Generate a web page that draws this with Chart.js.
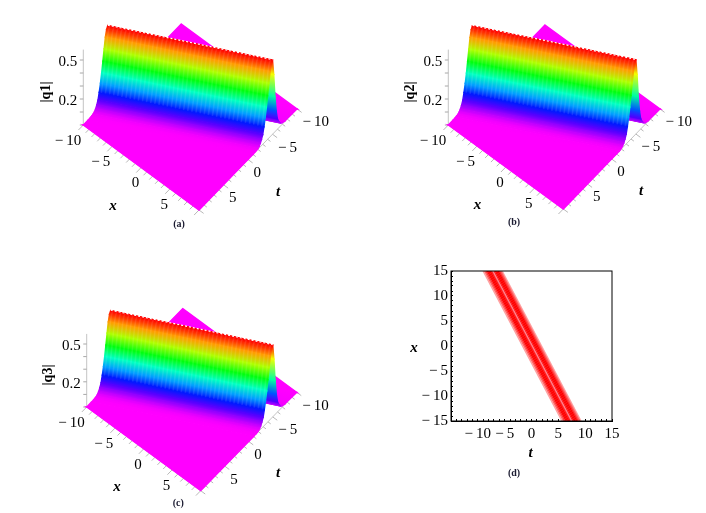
<!DOCTYPE html>
<html>
<head>
<meta charset="utf-8">
<script src="https://cdn.jsdelivr.net/npm/chart.js@4/dist/chart.umd.min.js"></script>
<style>
  html, body { margin: 0; padding: 0; background: #fff; }
  body { width: 706px; height: 513px; position: relative; overflow: hidden; }
  canvas { position: absolute; filter: blur(0.35px); }
</style>
</head>
<body>
<canvas id="panelA" width="353" height="257" style="left:0;top:0"></canvas>
<canvas id="panelB" width="353" height="257" style="left:353px;top:0"></canvas>
<canvas id="panelC" width="353" height="256" style="left:0;top:257px"></canvas>
<canvas id="panelD" width="353" height="256" style="left:353px;top:257px"></canvas>
<script>
// distance from the ridge, measured along t, and the height read at each distance
const ridgeOffsets = [-5, -2.5, -2, -1.75, -1.5, -1.25, -1, -0.75, -0.5, -0.25, 0, 0.25, 0.5, 0.75, 1, 1.25, 1.5, 1.75, 2, 2.25, 2.5, 2.75, 3, 3.25, 3.5, 4, 5];
const q1Heights = [0, 0.004, 0.01, 0.02, 0.03, 0.05, 0.08, 0.15, 0.27, 0.45, 0.57, 0.55, 0.5, 0.42, 0.335, 0.255, 0.185, 0.125, 0.075, 0.047, 0.026, 0.013, 0.006, 0.003, 0.001, 0, 0];
const q2Heights = [0, 0.004, 0.01, 0.02, 0.03, 0.05, 0.08, 0.15, 0.27, 0.45, 0.57, 0.55, 0.5, 0.42, 0.335, 0.255, 0.185, 0.125, 0.075, 0.047, 0.026, 0.013, 0.006, 0.003, 0.001, 0, 0];
const q3Heights = [0, 0.004, 0.01, 0.02, 0.03, 0.05, 0.08, 0.15, 0.27, 0.45, 0.57, 0.55, 0.5, 0.42, 0.335, 0.255, 0.185, 0.125, 0.075, 0.047, 0.026, 0.013, 0.006, 0.003, 0.001, 0, 0];

const xTicks = [-10, -9, -8, -7, -6, -5, -4, -3, -2, -1, 0, 1, 2, 3, 4, 5, 6, 7, 8, 9, 10];
const tTicks = [-10, -9, -8, -7, -6, -5, -4, -3, -2, -1, 0, 1, 2, 3, 4, 5, 6, 7, 8, 9, 10];
const zTicks = [0, 0.1, 0.2, 0.3, 0.4, 0.5];
const xLabels = [-10, -5, 0, 5];
const tLabels = [-10, -5, 0, 5];
const zLabels = [0.2, 0.5];
const rampColors = ["#ff00ff", "#0000ff", "#00ffff", "#00ff00", "#ffff00", "#ff0000"];

// panel (d): each contour is a straight line, t read at the top (x = 15) and bottom (x = -15)
const contourEdgeX = [15, -15];
const contourTopT = [-9.0, -8.75, -8.5, -8.25, -8.0, -7.75, -7.5, -7.25, -7.0, -6.75, -6.5, -6.25, -6.0, -5.75, -5.5];
const contourBottomT = [5.7, 5.95, 6.2, 6.45, 6.7, 6.95, 7.2, 7.45, 7.7, 7.95, 8.2, 8.45, 8.7, 8.95, 9.2];
const contourColors = ["#ffa0a0", "#ff6060", "#ff3030", "#ff0000", "#ff0000", "#ff0000", "#ff2020", "#ff8090", "#ff2020", "#ff0000", "#ff0000", "#ff0000", "#ff3030", "#ff6060", "#ffa0a0"];
const dTicks = [-15, -10, -5, 0, 5, 10, 15];

const font = '"Liberation Serif", "Times New Roman", serif';

const minusText = (v) => String(v).replace("-", "\u2212\u2009");

const parseHex = (h) => [1, 3, 5].map((i) => parseInt(h.substr(i, 2), 16));

const rampColor = (z, top) => {
  let p = Math.min(z / top, 1) * (rampColors.length - 1);
  let i = Math.min(Math.floor(p), rampColors.length - 2);
  let a = parseHex(rampColors[i]), b = parseHex(rampColors[i + 1]);
  let c = a.map((v, k) => Math.round(v + (b[k] - v) * (p - i)));
  return `rgb(${c[0]},${c[1]},${c[2]})`;
};

// draws filled polygons and free text using the points the scales already placed
const surfacePlugin = {
  id: "surfacePlugin",
  beforeDatasetDraw(chart, args) {
    const ds = chart.data.datasets[args.index];
    if (!ds.polygon) return;
    const pts = args.meta.data;
    const ctx = chart.ctx;
    ctx.save();
    ctx.beginPath();
    pts.forEach((p, i) => (i ? ctx.lineTo(p.x, p.y) : ctx.moveTo(p.x, p.y)));
    ctx.closePath();
    if (ds.fromColor) {
      // colour runs across the strip, so lines of equal colour follow the ridge
      const ax = pts[1].x - pts[0].x, ay = pts[1].y - pts[0].y;
      const len = ax * ax + ay * ay;
      const bx = pts[3].x - pts[0].x, by = pts[3].y - pts[0].y;
      const k = (bx * ax + by * ay) / len;
      const g = ctx.createLinearGradient(pts[0].x, pts[0].y, pts[0].x + bx - k * ax, pts[0].y + by - k * ay);
      g.addColorStop(0, ds.fromColor);
      g.addColorStop(1, ds.toColor);
      ctx.fillStyle = g;
      ctx.strokeStyle = g;
    } else {
      ctx.fillStyle = ds.fillColor;
      ctx.strokeStyle = ds.fillColor;
    }
    ctx.lineWidth = 1.4;
    ctx.fill();
    ctx.stroke();
    ctx.restore();
    return false;
  },
  afterDraw(chart) {
    const ctx = chart.ctx;
    const texts = chart.options.plugins.surfacePlugin.texts || [];
    ctx.save();
    texts.forEach((t) => {
      ctx.font = t.font;
      ctx.fillStyle = t.color || "#000";
      ctx.textAlign = t.align || "center";
      ctx.textBaseline = "middle";
      ctx.save();
      ctx.translate(t.x, t.y);
      if (t.rotate) ctx.rotate(t.rotate);
      ctx.fillText(t.text, 0, 0);
      ctx.restore();
    });
    ctx.restore();
  },
};

const surfaceChart = (id, heights, view) => {
  const cx = (view.left[0] + view.right[0]) / 2, cy = (view.left[1] + view.right[1]) / 2;
  const ex = [(view.bottom[0] - view.left[0]) / 20, (view.bottom[1] - view.left[1]) / 20];
  const et = [(view.bottom[0] - view.right[0]) / 20, (view.bottom[1] - view.right[1]) / 20];
  const project = (x, t, z) => ({
    x: cx + x * ex[0] + t * et[0],
    y: cy + x * ex[1] + t * et[1] - z * view.zScale,
  });
  const top = Math.max(...heights);
  const magenta = rampColors[0];
  const datasets = [];
  const addLine = (points, color, width, dash) =>
    datasets.push({ data: points, showLine: true, borderColor: color, borderWidth: width, borderDash: dash || [], pointRadius: 0, fill: false });

  // axis lines and tick marks on the floor, left corner post for the height
  addLine([project(-10, 10, 0), project(10, 10, 0)], "#c4c4c4", 1);
  addLine([project(10, 10, 0), project(10, -10, 0)], "#c4c4c4", 1);
  addLine([project(-10, 10, 0), project(-10, 10, 0.58)], "#c4c4c4", 1);
  xTicks.forEach((x) => addLine([project(x, 10, 0), project(x, x % 5 ? 10.7 : 11, 0)], "#b8b8b8", 1));
  tTicks.forEach((t) => addLine([project(10, t, 0), project(t % 5 ? 10.5 : 10.8, t, 0)], "#b8b8b8", 1));
  zTicks.forEach((z) => addLine([project(-10, 10, z), project(-10.35, 10.3, z)], "#a8a8a8", 1));

  // flat floor behind the ridge
  datasets.push({ polygon: true, fillColor: magenta, pointRadius: 0, data: [project(-10, -10, 0), project(10, -10, 0), project(-10, 0, 0)] });
  // the ridge, one strip per pair of read offsets, back to front
  for (let i = 0; i < ridgeOffsets.length - 1; i++) {
    const w0 = ridgeOffsets[i], w1 = ridgeOffsets[i + 1];
    datasets.push({
      polygon: true,
      pointRadius: 0,
      fromColor: rampColor(heights[i], top),
      toColor: rampColor(heights[i + 1], top),
      data: [
        project(-10, w0 + 5, heights[i]),
        project(10, w0 - 5, heights[i]),
        project(10, w1 - 5, heights[i + 1]),
        project(-10, w1 + 5, heights[i + 1]),
      ],
    });
  }
  // flat floor in front of the ridge
  datasets.push({ polygon: true, fillColor: magenta, pointRadius: 0, data: [project(-10, 10, 0), project(10, 10, 0), project(10, 0, 0)] });

  // faint mesh ribs over the wall
  for (let k = -39; k < 40; k += 2) {
    const x = k / 4;
    const rib = [];
    ridgeOffsets.forEach((w, i) => {
      if (w >= 0 && w <= 1.75) rib.push(project(x, w - x / 2, heights[i]));
    });
    addLine(rib, "rgba(255,255,255,0.09)", 1.6);
  }
  // jagged top of the ridge
  const peak = heights[ridgeOffsets.indexOf(0)];
  addLine([project(-10, 5, peak + 0.004), project(10, -5, peak + 0.004)], "#ffffff", 1.2, [2, 2]);

  // Chart.js paints the first dataset last, the list above is back to front
  datasets.reverse();

  const texts = [];
  const numFont = `15px ${font}`;
  xLabels.forEach((x) => {
    const p = project(x, 10, 0);
    texts.push({ text: minusText(x), x: p.x - 2, y: p.y + 16, font: numFont, align: "right" });
  });
  tLabels.forEach((t) => {
    const p = project(10, t, 0);
    texts.push({ text: minusText(t), x: p.x + 5.5, y: p.y + 13.5, font: numFont, align: "left" });
  });
  zLabels.forEach((z) => {
    const p = project(-10, 10, z);
    texts.push({ text: z.toFixed(1), x: p.x - 6, y: p.y + 2.5, font: numFont, align: "right" });
  });
  texts.push({ text: view.zName, x: view.zNameAt[0], y: view.zNameAt[1], font: `bold 14px ${font}`, rotate: -Math.PI / 2 });
  texts.push({ text: "x", x: view.xNameAt[0], y: view.xNameAt[1], font: `italic bold 15px ${font}` });
  texts.push({ text: "t", x: view.tNameAt[0], y: view.tNameAt[1], font: `italic bold 15px ${font}` });
  texts.push({ text: view.caption, x: view.captionAt[0], y: view.captionAt[1], font: `bold 10px ${font}`, color: "#1a1a30" });

  const canvas = document.getElementById(id);
  return new Chart(canvas, {
    type: "scatter",
    data: { datasets },
    plugins: [surfacePlugin],
    options: {
      responsive: false,
      animation: false,
      layout: { padding: 0 },
      plugins: { legend: { display: false }, tooltip: { enabled: false }, surfacePlugin: { texts } },
      scales: {
        x: { type: "linear", display: false, min: 0, max: canvas.width },
        y: { type: "linear", display: false, min: 0, max: canvas.height, reverse: true },
      },
    },
  });
};

surfaceChart("panelA", q1Heights, {
  left: [83.3, 125], bottom: [199, 210], right: [297, 109], zScale: 130,
  zName: "|q1|", zNameAt: [46, 92], xNameAt: [113, 206], tNameAt: [278, 192], caption: "(a)", captionAt: [179, 224],
});
surfaceChart("panelB", q2Heights, {
  left: [95.3, 125], bottom: [210.3, 209], right: [307, 109], zScale: 130,
  zName: "|q2|", zNameAt: [57.7, 92], xNameAt: [124.5, 205], tNameAt: [288, 191], caption: "(b)", captionAt: [161, 222],
});
surfaceChart("panelC", q3Heights, {
  left: [86.7, 150], bottom: [200.7, 233.7], right: [296.7, 135.3], zScale: 126,
  zName: "|q3|", zNameAt: [48.3, 118], xNameAt: [117, 230], tNameAt: [278, 216], caption: "(c)", captionAt: [178.3, 246],
});

// panel (d)
const contourSets = contourTopT.map((t, i) => ({
  data: [{ x: t, y: contourEdgeX[0] }, { x: contourBottomT[i], y: contourEdgeX[1] }],
  showLine: true,
  borderColor: contourColors[i],
  borderWidth: 1.6,
  pointRadius: 0,
}));

const framePlugin = {
  id: "framePlugin",
  afterDraw(chart) {
    const a = chart.chartArea, ctx = chart.ctx;
    ctx.save();
    ctx.strokeStyle = "#000";
    ctx.lineWidth = 1;
    ctx.strokeRect(a.left, a.top, a.right - a.left, a.bottom - a.top);
    ctx.restore();
  },
};

const dAxis = (skipLabels) => ({
  type: "linear",
  min: -15,
  max: 15,
  border: { color: "#000", width: 1 },
  grid: { drawOnChartArea: false, color: "#000", tickLength: -2, tickWidth: 1 },
  ticks: {
    stepSize: 1,
    autoSkip: false,
    maxRotation: 0,
    padding: 6,
    color: "#000",
    font: { family: font, size: 15 },
    callback: (v) => (dTicks.includes(v) && !skipLabels.includes(v) ? minusText(v) : ""),
  },
});

const xAxisD = dAxis([-15]);
xAxisD.afterFit = (s) => { s.height = 30; };
const yAxisD = dAxis([]);
yAxisD.ticks.padding = 5;
yAxisD.afterFit = (s) => { s.width = 48; };

new Chart(document.getElementById("panelD"), {
  type: "scatter",
  data: { datasets: contourSets },
  plugins: [surfacePlugin, framePlugin],
  options: {
    responsive: false,
    animation: false,
    layout: { padding: { left: 50, right: 94, top: 14, bottom: 62 } },
    plugins: {
      legend: { display: false },
      tooltip: { enabled: false },
      surfacePlugin: {
        texts: [
          { text: "t", x: 177.7, y: 196, font: `italic bold 15px ${font}` },
          { text: "x", x: 61, y: 91, font: `italic bold 15px ${font}` },
          { text: "(d)", x: 161, y: 216, font: `bold 10px ${font}`, color: "#1a1a30" },
        ],
      },
    },
    scales: { x: xAxisD, y: yAxisD },
  },
});
</script>
</body>
</html>
